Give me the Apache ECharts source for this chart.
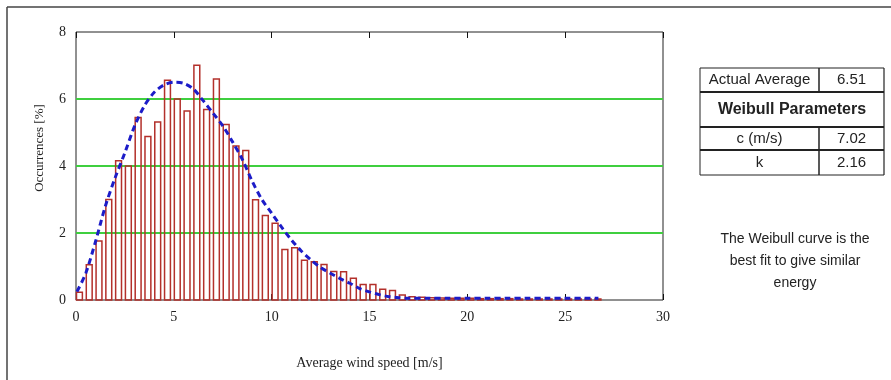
<!DOCTYPE html>
<html><head><meta charset="utf-8">
<script src="https://cdn.jsdelivr.net/npm/echarts@6/dist/echarts.min.js"></script>
<style>html,body{margin:0;padding:0;background:#fff}#c{width:891px;height:380px}</style>
</head><body><div id="c"></div>
<script>
// ---- data ----
const binWidth = 0.5;
const binStarts = [0,0.5,1,1.5,2,2.5,3,3.5,4,4.5,5,5.5,6,6.5,7,7.5,8,8.5,9,9.5,10,10.5,11,11.5,12,12.5,13,13.5,14,14.5,15,15.5,16,16.5,17,17.5,18,18.5,19,19.5,20,20.5,21,21.5,22,22.5,23,23.5,24,24.5,25,25.5,26,26.5];
const occurrences = [0.23,1.05,1.76,3.0,4.16,4.0,5.45,4.88,5.31,6.56,6.0,5.64,7.01,5.69,6.6,5.24,4.6,4.46,2.99,2.52,2.29,1.51,1.56,1.19,1.14,1.06,0.85,0.84,0.65,0.46,0.46,0.32,0.28,0.15,0.1,0.08,0.07,0.06,0.05,0.05,0.05,0.04,0.04,0.04,0.04,0.03,0.03,0.03,0.03,0.03,0.03,0.03,0.03,0.03];
const curveSpeeds = [0.05,0.5,1,1.5,2,2.5,3,3.5,4,4.5,5,5.5,6,6.5,7,7.5,8,8.5,9,9.5,10,10.5,11,11.5,12,12.5,13,13.5,14,14.5,15,15.5,16,16.5,17,18,19,20,21,22,23,24,25,26,26.7];
const curveValues = [0.25,0.8,1.75,2.8,3.65,4.4,5.2,5.8,6.2,6.42,6.5,6.47,6.3,5.95,5.58,5.2,4.72,4.2,3.55,3.0,2.59,2.18,1.8,1.47,1.2,0.97,0.8,0.64,0.5,0.34,0.24,0.16,0.1,0.07,0.05,0.05,0.05,0.05,0.05,0.05,0.05,0.05,0.05,0.05,0.05];
const xMin = 0, xMax = 30, xStep = 5;
const yMin = 0, yMax = 8, yStep = 2;
const xName = 'Average wind speed [m/s]';
const yName = 'Occurrences [%]';
const tableRows = [['Actual Average','6.51'],['Weibull Parameters'],['c (m/s)','7.02'],['k','2.16']];
const noteLines = ['The Weibull curve is the','best fit to give similar','energy'];

// ---- chart ----
const chart = echarts.init(document.getElementById('c'), null, {renderer:'canvas'});
const serif = 'Liberation Serif';
const sans = 'Liberation Sans';
const ink = '#222';
const barColor = '#b3302b';

const G = [];
// outer figure border (top & left edges)
G.push({type:'line', shape:{x1:7,y1:7,x2:891,y2:7}, style:{stroke:'#444',lineWidth:1.5}});
G.push({type:'line', shape:{x1:7,y1:7,x2:7,y2:380}, style:{stroke:'#444',lineWidth:1.5}});
// y-axis title
G.push({type:'text', x:40, y:148, rotation:Math.PI/2, style:{text:yName, font:'13px "'+serif+'"', fill:ink, align:'center', verticalAlign:'middle'}});
// table
const tL=700, tR=884, tM=819;
const rowY=[68,92,127,150,175];
[[0,1.2],[1,2],[2,2],[3,2],[4,1]].forEach(([i,w])=>G.push({type:'line',shape:{x1:tL,y1:rowY[i],x2:tR,y2:rowY[i]},style:{stroke:'#222',lineWidth:w}}));
G.push({type:'line',shape:{x1:tL,y1:rowY[0],x2:tL,y2:rowY[4]},style:{stroke:'#222',lineWidth:1}});
G.push({type:'line',shape:{x1:tR,y1:rowY[0],x2:tR,y2:rowY[4]},style:{stroke:'#222',lineWidth:1.2}});
G.push({type:'line',shape:{x1:tM,y1:rowY[0],x2:tM,y2:rowY[1]},style:{stroke:'#222',lineWidth:1.5}});
G.push({type:'line',shape:{x1:tM,y1:rowY[2],x2:tM,y2:rowY[4]},style:{stroke:'#222',lineWidth:1.5}});
tableRows.forEach((r,i)=>{
  const cy=(rowY[i]+rowY[i+1])/2;
  if(r.length===1){
    G.push({type:'text',x:(tL+tR)/2,y:cy,style:{text:r[0],font:'bold 16px "'+sans+'"',fill:ink,align:'center',verticalAlign:'middle'}});
  } else {
    G.push({type:'text',x:(tL+tM)/2,y:cy,style:{text:r[0],font:'15px "'+sans+'"',fill:ink,align:'center',verticalAlign:'middle'}});
    G.push({type:'text',x:(tM+tR)/2,y:cy,style:{text:r[1],font:'15px "'+sans+'"',fill:ink,align:'center',verticalAlign:'middle'}});
  }
});
noteLines.forEach((t,i)=>G.push({type:'text',x:795,y:239+i*22,style:{text:t,font:'14px "'+sans+'"',fill:ink,align:'center',verticalAlign:'middle'}}));

const tickStyle = {show:true, inside:true, length:6, lineStyle:{color:'#111', width:1}};
chart.setOption({
  animation:false,
  backgroundColor:'#fff',
  grid:{left:76,right:228,top:32,bottom:80,show:true,borderColor:'#222',borderWidth:1,backgroundColor:'transparent'},
  xAxis:[
    {type:'value',min:xMin,max:xMax,interval:xStep,position:'bottom',
     axisLine:{show:false},axisTick:tickStyle,splitLine:{show:false},
     axisLabel:{fontFamily:serif,fontSize:14,color:ink,margin:10},
     name:xName,nameLocation:'middle',nameGap:56,nameTextStyle:{fontFamily:serif,fontSize:14,color:ink}},
    {type:'value',min:xMin,max:xMax,interval:xStep,position:'top',
     axisLine:{show:false},axisTick:tickStyle,splitLine:{show:false},axisLabel:{show:false}}
  ],
  yAxis:{type:'value',min:yMin,max:yMax,interval:yStep,
    axisLine:{show:false},axisTick:{show:false},
    axisLabel:{fontFamily:serif,fontSize:14,color:ink,margin:10},
    splitLine:{show:true,showMinLine:false,showMaxLine:false,lineStyle:{color:'#3fcf3f',width:2}}},
  graphic:G,
  series:[
    {type:'custom',xAxisIndex:0,yAxisIndex:0,
     itemStyle:{color:barColor},
     data:binStarts.map((s,i)=>[s,occurrences[i]]),
     encode:{x:0,y:1},
     renderItem:function(params,api){
       const x0=api.value(0), v=api.value(1);
       const p0=api.coord([x0,0]);
       const p1=api.coord([x0,v]);
       const w=api.size([binWidth*0.6,0])[0];
       return {type:'rect',
               shape:{x:p0[0]+0.5,y:p1[1],width:w,height:p0[1]-p1[1]},
               style:{fill:'rgba(255,255,255,0)',stroke:barColor,lineWidth:1.5}};
     },z:3},
    {type:'line',xAxisIndex:0,yAxisIndex:0,
     data:curveSpeeds.map((s,i)=>[s,curveValues[i]]),
     smooth:0.3,showSymbol:false,symbol:'none',
     lineStyle:{color:'#1c1cc8',width:3,type:[6,4]},z:5}
  ]
});
</script>
</body></html>
